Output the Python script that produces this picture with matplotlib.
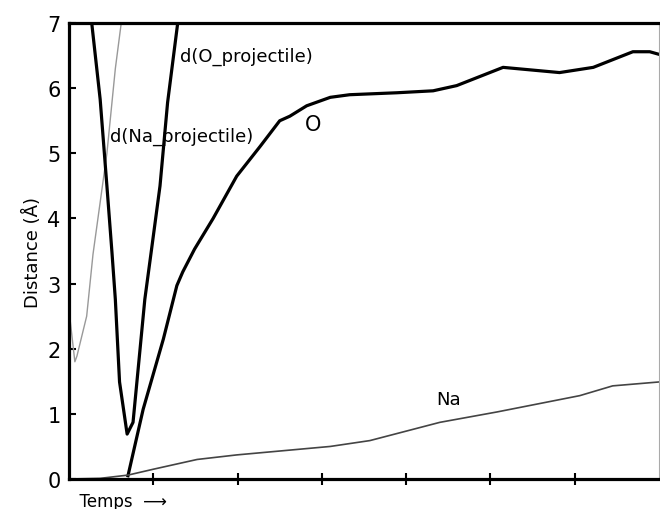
import matplotlib.pyplot as plt

# d(Na_projectile): thin grey curve
na_proj_t = [0.0, 0.07, 0.095, 0.21, 0.285, 0.45, 0.55, 0.62]
na_proj_d = [2.6, 1.8, 1.89, 2.5, 3.45, 5.0, 6.3, 7.0]

# d(O_projectile): thick V-shaped curve
o_proj_t = [0.27, 0.37, 0.45, 0.51, 0.55, 0.60, 0.69, 0.76, 0.90, 0.98, 1.08, 1.17, 1.29]
o_proj_d = [7.0, 5.83, 4.5, 3.48, 2.76, 1.49, 0.69, 0.87, 2.76, 3.53, 4.5, 5.78, 7.0]

# O curve
o_t = [0.70, 0.88, 1.12, 1.28, 1.35, 1.49, 1.71, 1.99, 2.27, 2.5, 2.62, 2.82, 3.10,
       3.33, 3.89, 4.32, 4.6, 5.15, 5.82, 6.22, 6.69, 6.89, 7.0]
o_d = [0.05, 1.07, 2.15, 2.97, 3.18, 3.53, 4.0, 4.65, 5.11, 5.5, 5.57, 5.73, 5.86,
       5.9, 5.93, 5.96, 6.04, 6.32, 6.24, 6.32, 6.56, 6.56, 6.52]

# Na curve
na_t = [0.0, 0.37, 0.70, 1.0, 1.52, 1.99, 3.1, 3.57, 4.4, 5.08, 6.06, 6.45, 7.0]
na_d = [0.0, 0.01, 0.06, 0.15, 0.3, 0.37, 0.5, 0.59, 0.87, 1.03, 1.28, 1.43, 1.49]

fig = plt.figure(figsize=(6.6, 5.1), dpi=100)
ax = fig.add_axes([0.1045, 0.0588, 0.894, 0.894])

ax.plot(na_proj_t, na_proj_d, color='#999999', lw=1.0)
ax.plot(o_proj_t, o_proj_d, color='black', lw=2.3)
ax.plot(o_t, o_d, color='black', lw=2.3)
ax.plot(na_t, na_d, color='#444444', lw=1.2)

ax.text(1.32, 6.42, 'd(O_projectile)', fontsize=13)
ax.text(0.49, 5.2, 'd(Na_projectile)', fontsize=13)
ax.text(4.5, 1.15, 'Na', fontsize=13, ha='center')
ax.text(2.9, 5.45, 'O', fontsize=15, ha='center', va='center')

ax.set_xlim(0, 7)
ax.set_ylim(0, 7)
ax.set_xticks([1, 2, 3, 4, 5, 6])
ax.set_xticklabels([])
ax.set_yticks(range(8))
ax.tick_params(axis='x', direction='inout', length=8, width=1.5)
ax.tick_params(axis='y', direction='in', length=5, width=1.5, labelsize=15, pad=6)

for s in ['left', 'bottom', 'top']:
    ax.spines[s].set_linewidth(2.3)
ax.spines['right'].set_linewidth(0.8)
ax.spines['right'].set_color('#aaaaaa')

ax.set_ylabel('Distance (Å)', fontsize=13, labelpad=4)
ax.set_xlabel('  Temps  ⟶', fontsize=12, loc='left', labelpad=2)

fig.savefig('out.png')
